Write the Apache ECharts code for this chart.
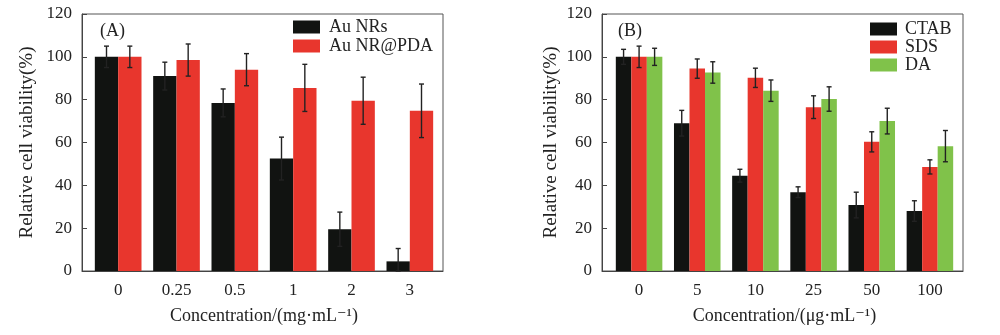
<!DOCTYPE html>
<html>
<head>
<meta charset="utf-8">
<script src="https://cdn.jsdelivr.net/npm/echarts@6/dist/echarts.min.js"></script>
<style>html,body{margin:0;padding:0;background:#fff;}#c{width:1000px;height:335px;}</style>
</head>
<body>
<div id="c"></div>
<script>
// ---- Data ----
const catsA = ['0', '0.25', '0.5', '1', '2', '3'];
const auNRs = [100, 91, 78.5, 52.5, 19.5, 4.5];
const auNRsErr = [5, 6.5, 6.5, 10, 8, 6];
const auPDA = [100, 98.5, 94, 85.5, 79.5, 74.8];
const auPDAErr = [5, 7.5, 7.5, 11, 11, 12.5];

const catsB = ['0', '5', '10', '25', '50', '100'];
const ctab = [100, 69, 44.5, 36.8, 30.8, 28];
const ctabErr = [3.5, 6, 3, 2.5, 6, 4.8];
const sds = [100, 94.5, 90.2, 76.5, 60.3, 48.6];
const sdsErr = [5, 4.5, 4.5, 5.3, 4.7, 3.3];
const da = [100, 92.7, 84.2, 80.3, 70, 58.3];
const daErr = [4, 5, 5, 5.7, 6, 7.3];

const yTicks = [0, 20, 40, 60, 80, 100, 120];

// ---- Styles ----
const FONT = '"Liberation Serif", "DejaVu Serif", serif';
const BLACK = '#111311', RED = '#e8362d', GREEN = '#80c24a';
const GAP = 0.2;
const AXC = '#444';

const chart = echarts.init(document.getElementById('c'), null, {renderer: 'canvas'});

function errSeries(name, grid, vals, errs, k, n) {
  return {
    type: 'custom', name: name + ' err', xAxisIndex: grid, yAxisIndex: grid, z: 10,
    data: vals.map((v, i) => [i, v, errs[i]]),
    renderItem: function (params, api) {
      const i = api.value(0), v = api.value(1), e = api.value(2);
      const c = api.coord([i, v]);
      const band = api.size([1, 0])[0];
      const total = band * (1 - GAP);
      const w = total / n;
      const x = c[0] - total / 2 + w * (k + 0.5);
      const top = api.coord([i, v + e])[1];
      const bot = api.coord([i, Math.max(v - e, 0)])[1];
      const cap = 2.5;
      const st = {stroke: '#222', lineWidth: 1.4};
      return {type: 'group', children: [
        {type: 'line', shape: {x1: x, y1: top, x2: x, y2: bot}, style: st},
        {type: 'line', shape: {x1: x - cap, y1: top, x2: x + cap, y2: top}, style: st},
        {type: 'line', shape: {x1: x - cap, y1: bot, x2: x + cap, y2: bot}, style: st}
      ]};
    }
  };
}

function barSeries(name, grid, vals, color) {
  return {
    type: 'bar', name: name, xAxisIndex: grid, yAxisIndex: grid, data: vals,
    barGap: '0%', barCategoryGap: (GAP * 100) + '%',
    itemStyle: {color: color}
  };
}

// frame axes (visible y axis, bottom axis line)
function frameX(grid) {
  return {type: 'value', gridIndex: grid, min: 0, max: 1,
    axisLine: {show: true, onZero: false, lineStyle: {color: AXC, width: 1}},
    axisTick: {show: false}, axisLabel: {show: false}, splitLine: {show: false}};
}
function frameY(grid, gap) {
  return {
    type: 'value', gridIndex: grid, min: 0, max: 120, interval: 20,
    axisLine: {show: true, lineStyle: {color: AXC, width: 1}},
    axisTick: {show: true, inside: true, length: 5, lineStyle: {color: AXC}},
    splitLine: {show: false},
    axisLabel: {fontFamily: FONT, fontSize: 17, color: '#222', margin: 10,
      formatter: v => yTicks.includes(v) ? String(v) : ''},
    name: 'Relative cell viability(%)', nameLocation: 'middle', nameGap: gap,
    nameTextStyle: {fontFamily: FONT, fontSize: 19, color: '#222'}
  };
}
// bar axes (category labels, hidden y)
function barX(grid, cats, title) {
  return {
    type: 'category', gridIndex: grid, data: cats,
    axisLine: {show: false}, axisTick: {show: false},
    axisLabel: {fontFamily: FONT, fontSize: 17, color: '#222', margin: 11},
    name: title, nameLocation: 'middle', nameGap: 36,
    nameTextStyle: {fontFamily: FONT, fontSize: 18, color: '#222'}
  };
}
function barY(grid) {
  return {type: 'value', gridIndex: grid, min: 0, max: 120, interval: 20, show: false,
    splitLine: {show: false}};
}

const option = {
  animation: false,
  backgroundColor: '#fff',
  grid: [
    {left: 82, right: 557, top: 14, bottom: 64, show: true, borderColor: '#555', borderWidth: 1, backgroundColor: 'transparent'},
    {left: 89, right: 561, top: 14, bottom: 64},
    {left: 602, right: 37, top: 14, bottom: 64, show: true, borderColor: '#555', borderWidth: 1, backgroundColor: 'transparent'},
    {left: 610, right: 41, top: 14, bottom: 64}
  ],
  title: [
    {text: '(A)', left: 95, top: 17, textStyle: {fontFamily: FONT, fontSize: 18, fontWeight: 'normal', color: '#222'}},
    {text: '(B)', left: 613, top: 17, textStyle: {fontFamily: FONT, fontSize: 18, fontWeight: 'normal', color: '#222'}}
  ],
  legend: [
    {data: ['Au NRs', 'Au NR@PDA'], orient: 'vertical', left: 293, top: 18, itemWidth: 27, itemHeight: 13, itemGap: 1,
     icon: 'rect', textStyle: {fontFamily: FONT, fontSize: 18, color: '#222', padding: [0, 0, 0, 4]}, padding: 0},
    {data: ['CTAB', 'SDS', 'DA'], orient: 'vertical', left: 870, top: 20, itemWidth: 27, itemHeight: 13, itemGap: 0,
     icon: 'rect', textStyle: {fontFamily: FONT, fontSize: 18, color: '#222', padding: [0, 0, 0, 3]}, padding: 0}
  ],
  xAxis: [
    frameX(0),
    barX(1, catsA, 'Concentration/(mg\u00b7mL\u207b\u00b9)'),
    frameX(2),
    barX(3, catsB, 'Concentration/(\u03bcg\u00b7mL\u207b\u00b9)')
  ],
  yAxis: [frameY(0, 45), barY(1), frameY(2, 41), barY(3)],
  series: [
    barSeries('Au NRs', 1, auNRs, BLACK),
    barSeries('Au NR@PDA', 1, auPDA, RED),
    barSeries('CTAB', 3, ctab, BLACK),
    barSeries('SDS', 3, sds, RED),
    barSeries('DA', 3, da, GREEN),
    errSeries('Au NRs', 1, auNRs, auNRsErr, 0, 2),
    errSeries('Au NR@PDA', 1, auPDA, auPDAErr, 1, 2),
    errSeries('CTAB', 3, ctab, ctabErr, 0, 3),
    errSeries('SDS', 3, sds, sdsErr, 1, 3),
    errSeries('DA', 3, da, daErr, 2, 3)
  ]
};
chart.setOption(option);
</script>
</body>
</html>
